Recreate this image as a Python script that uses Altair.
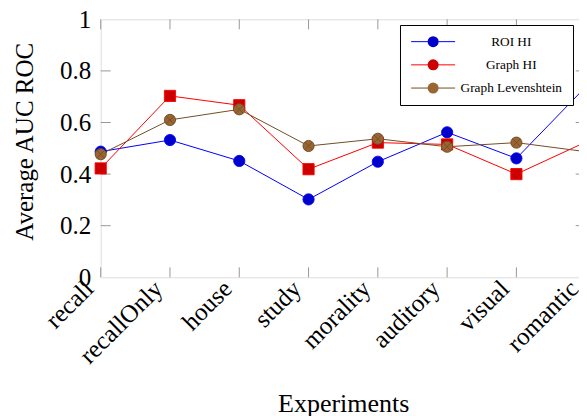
import altair as alt
import pandas as pd

experiments = ["recall", "recallOnly", "house", "study", "morality", "auditory", "visual", "romantic"]
series_names = ["ROI HI", "Graph HI", "Graph Levenshtein"]
roi_hi = [0.487, 0.532, 0.451, 0.302, 0.448, 0.562, 0.461, 0.738]
graph_hi = [0.422, 0.703, 0.667, 0.419, 0.522, 0.515, 0.400, 0.524]
graph_lev = [0.477, 0.610, 0.651, 0.509, 0.537, 0.506, 0.522, 0.487]
y_tick_values = [0, 0.2, 0.4, 0.6, 0.8, 1]
inner_y_ticks = [0.2, 0.4, 0.6, 0.8]

line_colors = ["#0000ff", "#ff0000", "#734d26"]
fill_colors = ["#0000cc", "#cc0000", "#996633"]
otimes = ("M-1,0A1,1,0,1,1,1,0A1,1,0,1,1,-1,0Z"
          "M-0.707,-0.707L0.707,0.707M-0.707,0.707L0.707,-0.707")
shapes = ["circle", "square", otimes]

rows = []
for name, vals in zip(series_names, [roi_hi, graph_hi, graph_lev]):
    for e, v in zip(experiments, vals):
        rows.append({"exp": e, "series": name, "series_l": name, "value": v})
df = pd.DataFrame(rows)

W, H = 485, 258
FONT = "Liberation Serif"

leg_common = dict(
    orient="none", legendX=299.3, legendY=5.7, padding=10, rowPadding=9.2,
    labelFont=FONT, labelFontSize=13.3, labelAlign="center", labelOffset=71.5,
    symbolOffset=16.5, symbolSize=121, symbolStrokeWidth=1, title=None,
)

x_enc = alt.X("exp:N", scale=alt.Scale(type="point", padding=0, domain=experiments),
              axis=alt.Axis(title="Experiments", labelAngle=-45, labelAlign="right",
                            labelBaseline="middle", labelFont=FONT, labelFontSize=25,
                            labelColor="black", labelPadding=7, labelOffset=-12,
                            ticks=False, tickSize=0,
                            domain=False, grid=False, titleFont=FONT, titleFontSize=26,
                            titleFontWeight="normal", titleColor="black",
                            titleY=134, titleBaseline="alphabetic"))
y_enc = alt.Y("value:Q", scale=alt.Scale(domain=[0, 1], nice=False),
              axis=alt.Axis(title="Average AUC ROC", values=y_tick_values, format="~g",
                            labelFont=FONT, labelFontSize=25, labelColor="black",
                            labelPadding=10, ticks=False, tickSize=0, domain=False,
                            grid=False, titleFont=FONT, titleFontSize=25,
                            titleFontWeight="normal", titleColor="black",
                            titleX=-67.7, titleY=122, titleAngle=-90,
                            titleAlign="center", titleBaseline="alphabetic"))

lines = alt.Chart(df).mark_line(strokeWidth=1).encode(
    x=x_enc, y=y_enc,
    color=alt.Color("series_l:N", sort=series_names,
                    scale=alt.Scale(range=line_colors),
                    legend=alt.Legend(symbolType="M-4,0H4", strokeColor="black",
                                      fillColor="white", **leg_common)),
)

pt_legend = alt.Legend(labelOpacity=0, **leg_common)
points = alt.Chart(df).mark_point(filled=True, size=125, strokeWidth=0.9, opacity=1).encode(
    x=alt.X("exp:N"), y=alt.Y("value:Q"),
    color=alt.Color("series:N", sort=series_names, scale=alt.Scale(range=fill_colors), legend=pt_legend),
    shape=alt.Shape("series:N", sort=series_names, scale=alt.Scale(range=shapes), legend=pt_legend),
    stroke=alt.Stroke("series:N", sort=series_names, scale=alt.Scale(range=line_colors), legend=None),
)

ydf = pd.DataFrame({"value": inner_y_ticks})
xdf = pd.DataFrame({"exp": experiments})
tick_color = "#999999"
yl = alt.Chart(ydf).mark_rule(color=tick_color, strokeWidth=1).encode(
    y=alt.Y("value:Q"), x=alt.value(0), x2=alt.value(10))
yr = alt.Chart(ydf).mark_rule(color=tick_color, strokeWidth=1).encode(
    y=alt.Y("value:Q"), x=alt.value(W), x2=alt.value(W - 10))
xt = alt.Chart(xdf).mark_rule(color=tick_color, strokeWidth=1).encode(
    x=alt.X("exp:N"), y=alt.value(0), y2=alt.value(10))
xb = alt.Chart(xdf).mark_rule(color=tick_color, strokeWidth=1).encode(
    x=alt.X("exp:N"), y=alt.value(H), y2=alt.value(H - 10))

chart = alt.layer(lines, yl, yr, xt, xb, points).resolve_scale(
    color="independent"
).properties(
    width=W, height=H, autosize="none",
    padding={"left": 92.7, "top": 11.3, "right": -7, "bottom": 139},
).configure_view(stroke="#222222", strokeWidth=1).configure(font=FONT)

chart.save("out.html", embed_options={"renderer": "svg", "actions": False})
